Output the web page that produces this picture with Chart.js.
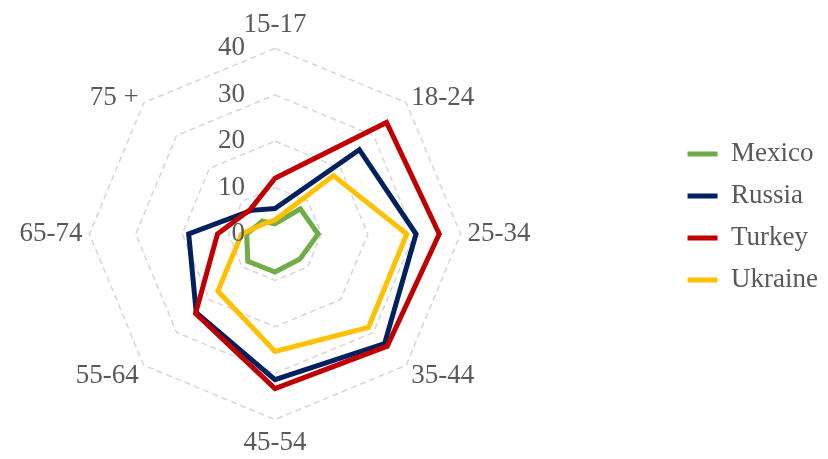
<!DOCTYPE html>
<html>
<head>
<meta charset="utf-8">
<script src="https://cdn.jsdelivr.net/npm/chart.js@4"></script>
<style>
  body { margin: 0; background: #fff; overflow: hidden; }
  #page { width: 828px; height: 459px; overflow: hidden; }
  /* canvas runs past the left edge so the web sits left of centre */
  #wrap { position: relative; width: 950px; height: 459px; margin-left: -122px; }
</style>
</head>
<body>
<div id="page"><div id="wrap"><canvas id="radar"></canvas></div></div>
<script>
// age bands round the web, clockwise from the top
const ageBands = ['15-17', '18-24', '25-34', '35-44', '45-54', '55-64', '65-74', '75 +']

const mexico  = [2.2, 7.7, 9.3, 7.6, 8.2, 8.3, 6.1, 3.9]
const russia  = [5.5, 25.7, 30.4, 33.4, 31.4, 24.0, 18.6, 7.2]
const turkey  = [12.0, 34.0, 35.4, 34.2, 33.3, 24.2, 12.4, 7.5]
const ukraine = [3.0, 17.8, 28.4, 28.5, 25.3, 17.4, 7.2, 3.2]

// radial axis: 0 to 40 in steps of 10
const axisMin = 0
const axisMax = 40
const axisStep = 10

const grey = '#595959'
const serif = 'Liberation Serif'

// ring values written just left of the vertical spoke
const ringLabels = {
  id: 'ringLabels',
  afterDatasetsDraw(chart) {
    const r = chart.scales.r
    const ctx = chart.ctx
    ctx.save()
    ctx.font = '27px "' + serif + '"'
    ctx.fillStyle = grey
    ctx.textAlign = 'right'
    ctx.textBaseline = 'middle'
    r.ticks.forEach(t => {
      const d = r.getDistanceFromCenterForValue(t.value)
      ctx.fillText(t.label, r.xCenter - 30, r.yCenter - d)
    })
    ctx.restore()
  }
}

// legend block sits a little above the middle
const legendLift = {
  id: 'legendLift',
  afterLayout(chart) {
    chart.legend.top -= 18
    chart.legend.bottom -= 18
  }
}

function series(label, data, color, order) {
  return {
    label: label,
    data: data,
    borderColor: color,
    backgroundColor: color,
    borderWidth: 5,
    borderJoinStyle: 'miter',
    borderCapStyle: 'round',
    pointRadius: 0,
    pointHoverRadius: 0,
    fill: false,
    order: order,
  }
}

// line height per label: upper diagonals centred on the spoke end,
// lower diagonals hang a touch below it
function labelLineHeight(i) {
  if (i === 1 || i === 7) return 0.01
  if (i === 3 || i === 5) return 0.4
  return 1.2
}

new Chart(document.getElementById('radar'), {
  type: 'radar',
  data: {
    labels: ageBands,
    datasets: [
      series('Mexico', mexico, '#70AD47', 4),
      series('Russia', russia, '#002060', 3),
      series('Turkey', turkey, '#C00000', 2),
      series('Ukraine', ukraine, '#FFC000', 1),
    ],
  },
  options: {
    responsive: true,
    maintainAspectRatio: false,
    animation: false,
    layout: {
      padding: { top: 9, bottom: -2, left: 0, right: 0 },
    },
    plugins: {
      tooltip: { enabled: false },
      legend: {
        position: 'right',
        align: 'center',
        labels: {
          usePointStyle: true,
          pointStyle: 'line',
          pointStyleWidth: 30,
          padding: 15,
          color: grey,
          font: { family: serif, size: 27 },
          sort: (a, b) => a.datasetIndex - b.datasetIndex,
        },
      },
    },
    scales: {
      r: {
        min: axisMin,
        max: axisMax,
        ticks: { stepSize: axisStep, display: false },
        angleLines: { display: false },
        grid: { color: '#d6d6d6', lineWidth: 1.5 },
        border: { dash: [6, 4] },
        pointLabels: {
          color: grey,
          padding: 7,
          font: (c) => ({
            family: serif,
            size: 27,
            lineHeight: labelLineHeight(c.index),
          }),
        },
      },
    },
  },
  plugins: [ringLabels, legendLift],
})
</script>
</body>
</html>
